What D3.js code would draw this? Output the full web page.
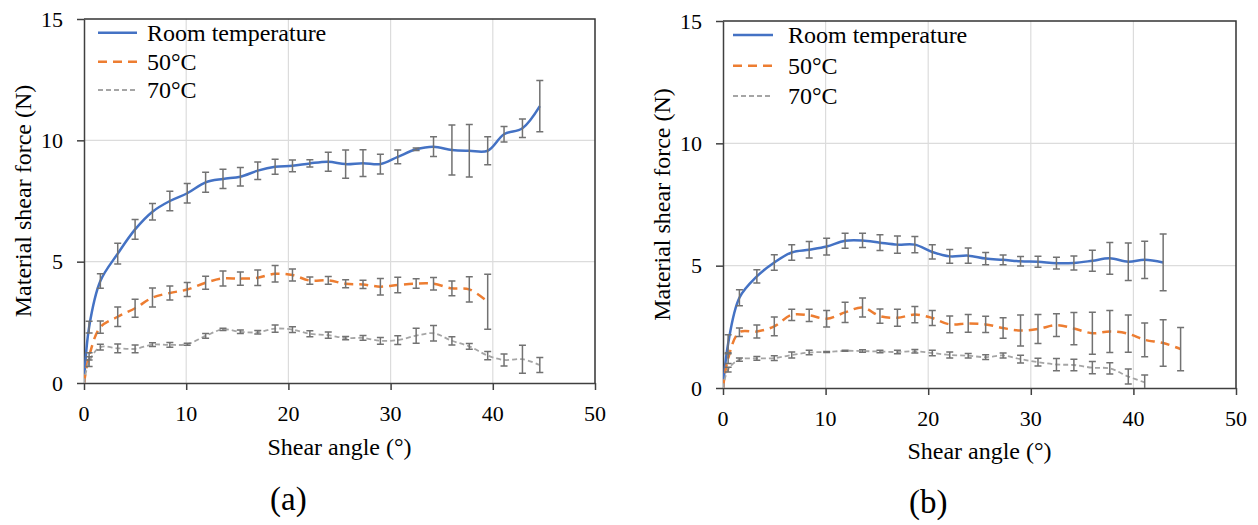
<!DOCTYPE html>
<html><head><meta charset="utf-8">
<script src="https://cdn.jsdelivr.net/npm/d3@7"></script>
<style>
body{margin:0;background:#fff}
svg{display:block}
text{font-family:"Liberation Serif","Times New Roman",serif;fill:#000}
</style>
</head><body>
<svg id="chart" width="1258" height="525"></svg>
<script>
// ---------- data ----------
const angles = [0, 0.5, 1.6, 3.3, 5.0, 6.7, 8.4, 10.1, 11.9, 13.6, 15.3, 17.0, 18.7, 20.4, 22.1, 23.9, 25.6, 27.3, 29.0, 30.7, 32.5, 34.2, 36.0, 37.7, 39.5, 41.1, 42.9, 44.6];
const xTicks = [0, 10, 20, 30, 40, 50];
const yTicks = [0, 5, 10, 15];
const seriesNames = ["Room temperature", "50°C", "70°C"];
const xTitle = "Shear angle (°)";
const yTitle = "Material shear force (N)";
const panelLabels = ["(a)", "(b)"];

// panel (a)
const roomA    = [0, 2.3, 4.2, 5.33, 6.33, 7.06, 7.5, 7.82, 8.27, 8.41, 8.5, 8.75, 8.91, 8.95, 9.05, 9.12, 9.02, 9.06, 9.02, 9.32, 9.63, 9.74, 9.6, 9.57, 9.57, 10.25, 10.5, 11.41];
const roomAErr = [null, 0.24, 0.3, 0.43, 0.41, 0.34, 0.4, 0.4, 0.41, 0.4, 0.38, 0.36, 0.31, 0.24, 0.15, 0.39, 0.58, 0.55, 0.41, 0.28, 0.05, 0.41, 1.03, 1.08, 0.58, 0.32, 0.38, 1.06];
const c50A     = [0, 1.1, 2.3, 2.73, 3.08, 3.52, 3.71, 3.85, 4.13, 4.31, 4.3, 4.34, 4.5, 4.45, 4.22, 4.23, 4.09, 4.06, 3.97, 4.04, 4.1, 4.09, 3.9, 3.86, 3.35, null, null, null];
const c50AErr  = [null, 0.15, 0.25, 0.4, 0.37, 0.39, 0.29, 0.29, 0.27, 0.31, 0.27, 0.32, 0.34, 0.25, 0.15, 0.16, 0.16, 0.17, 0.34, 0.32, 0.2, 0.26, 0.3, 0.52, 1.13, null, null, null];
const c70A     = [0, 0.88, 1.48, 1.43, 1.41, 1.58, 1.57, 1.6, 1.94, 2.21, 2.11, 2.09, 2.24, 2.2, 2.03, 1.97, 1.85, 1.86, 1.74, 1.77, 1.95, 2.05, 1.74, 1.51, 1.13, 0.95, 0.98, 0.74];
const c70AErr  = [null, 0.2, 0.12, 0.18, 0.16, 0.08, 0.1, 0.04, 0.1, 0.05, 0.07, 0.07, 0.15, 0.12, 0.12, 0.13, 0.07, 0.1, 0.14, 0.18, 0.31, 0.32, 0.17, 0.12, 0.17, 0.25, 0.58, 0.31];

// panel (b)
const roomB    = [0, 1.81, 3.69, 4.56, 5.13, 5.54, 5.65, 5.78, 6.02, 6.03, 5.94, 5.86, 5.86, 5.56, 5.38, 5.41, 5.29, 5.24, 5.18, 5.16, 5.1, 5.11, 5.2, 5.3, 5.16, 5.24, 5.13, null];
const roomBErr = [null, 0.37, 0.33, 0.27, 0.32, 0.32, 0.34, 0.34, 0.31, 0.29, 0.32, 0.35, 0.33, 0.29, 0.28, 0.31, 0.25, 0.2, 0.19, 0.22, 0.24, 0.29, 0.43, 0.65, 0.77, 0.76, 1.16, null];
const c50B     = [0, 1.2, 2.28, 2.31, 2.52, 2.99, 2.97, 2.83, 3.09, 3.29, 2.94, 2.87, 3.0, 2.86, 2.6, 2.64, 2.6, 2.45, 2.35, 2.41, 2.57, 2.43, 2.24, 2.31, 2.22, 1.97, 1.84, 1.59];
const c50BErr  = [null, 0.2, 0.17, 0.27, 0.38, 0.23, 0.25, 0.34, 0.41, 0.39, 0.29, 0.35, 0.33, 0.31, 0.34, 0.36, 0.33, 0.42, 0.63, 0.59, 0.46, 0.66, 0.86, 0.86, 0.76, 0.69, 0.95, 0.88];
const c70B     = [0, 0.75, 1.16, 1.21, 1.22, 1.35, 1.45, 1.47, 1.52, 1.51, 1.49, 1.47, 1.5, 1.43, 1.35, 1.32, 1.26, 1.33, 1.18, 1.06, 0.96, 0.94, 0.83, 0.8, 0.47, 0.23, null, null];
const c70BErr  = [null, 0.1, 0.07, 0.08, 0.1, 0.12, 0.09, 0.02, 0.02, 0.05, 0.05, 0.07, 0.07, 0.11, 0.12, 0.09, 0.1, 0.1, 0.16, 0.16, 0.25, 0.23, 0.25, 0.23, 0.31, 0.3, null, null];

// ---------- styles ----------
const FONT = '"Liberation Serif", "Times New Roman", serif';
const seriesStyle = [
  {color: "#4472C4", width: 2.5, dash: null},
  {color: "#ED7D31", width: 2.5, dash: "9,6"},
  {color: "#A5A5A5", width: 1.8, dash: "5,3"}
];
const errColor = "#727272";

const panels = [
  {label: panelLabels[0], left: 84, right: 595, top: 19, bottom: 383,
   series: [[roomA, roomAErr], [c50A, c50AErr], [c70A, c70AErr]],
   legend: {x0: 98, x1: 137, tx: 147, ys: [32.7, 61.7, 90]},
   tickLabelY: 421, titleY: 455, labelY: 510},
  {label: panelLabels[1], left: 723, right: 1236, top: 21, bottom: 388,
   series: [[roomB, roomBErr], [c50B, c50BErr], [c70B, c70BErr]],
   legend: {x0: 733, x1: 773, tx: 788, ys: [35, 65.7, 96]},
   tickLabelY: 426, titleY: 459, labelY: 513}
];

const svg = d3.select("#chart");
svg.append("rect").attr("width", 1258).attr("height", 525).attr("fill", "#fff");

panels.forEach((p, pi) => {
  const x = d3.scaleLinear().domain([0, 50]).range([p.left, p.right]);
  const y = d3.scaleLinear().domain([0, 15]).range([p.bottom, p.top]);
  const g = svg.append("g").attr("font-family", FONT);

  const clipId = "clip" + pi;
  svg.append("clipPath").attr("id", clipId).append("rect")
    .attr("x", p.left).attr("y", p.top).attr("width", p.right - p.left).attr("height", p.bottom - p.top);

  // gridlines
  g.selectAll(".vg").data(xTicks.filter(t => t > 0 && t < 50)).join("line")
    .attr("x1", d => x(d)).attr("x2", d => x(d)).attr("y1", p.top).attr("y2", p.bottom)
    .attr("stroke", "#dcdcdc").attr("stroke-width", 1.2);
  g.selectAll(".hg").data(yTicks.filter(t => t > 0 && t < 15)).join("line")
    .attr("y1", d => y(d)).attr("y2", d => y(d)).attr("x1", p.left).attr("x2", p.right)
    .attr("stroke", "#dcdcdc").attr("stroke-width", 1.2);

  // frame (top / right)
  g.append("path")
    .attr("d", `M${p.left},${p.top}H${p.right}V${p.bottom}`)
    .attr("fill", "none").attr("stroke", "#333").attr("stroke-width", 1.5);

  // axes
  const xa = g.append("g").attr("transform", `translate(0,${p.bottom})`)
    .call(d3.axisBottom(x).tickValues(xTicks).tickSize(7).tickSizeOuter(0).tickFormat(d3.format("d")));
  xa.selectAll("text").remove();
  const ya = g.append("g").attr("transform", `translate(${p.left},0)`)
    .call(d3.axisLeft(y).tickValues(yTicks).tickSize(7).tickSizeOuter(0).tickPadding(14).tickFormat(d3.format("d")));
  [xa, ya].forEach(a => {
    a.attr("font-family", FONT);
    a.select(".domain").attr("stroke", "#404040").attr("stroke-width", 1.5);
    a.selectAll(".tick line").attr("stroke", "#404040").attr("stroke-width", 1.5);
  });
  ya.selectAll("text").attr("font-size", 22).style("font-family", FONT).attr("fill", "#000");

  // x tick labels
  g.selectAll(".xl").data(xTicks).join("text")
    .attr("x", d => x(d)).attr("y", p.tickLabelY)
    .attr("text-anchor", "middle").attr("font-size", 22).style("font-family", FONT).text(d => d);

  // axis titles
  g.append("text").attr("x", (p.left + p.right) / 2).attr("y", p.titleY)
    .attr("text-anchor", "middle").attr("font-size", 24).style("font-family", FONT).text(xTitle);
  g.append("text")
    .attr("transform", `translate(${p.left - 61},${(p.top + p.bottom) / 2}) rotate(-90)`)
    .attr("text-anchor", "middle").attr("dy", "0.35em").attr("font-size", 24).style("font-family", FONT).text(yTitle);
  g.append("text").attr("x", x(20)).attr("y", p.labelY)
    .attr("text-anchor", "middle").attr("font-size", 33).style("font-family", FONT).text(p.label);

  // series lines
  const plot = g.append("g").attr("clip-path", `url(#${clipId})`);
  p.series.forEach(([vals, errs], si) => {
    const st = seriesStyle[si];
    const pts = angles.map((a, i) => ({a, v: vals[i], e: errs[i]}));
    const line = d3.line().defined(d => d.v != null)
      .x(d => x(d.a)).y(d => y(d.v)).curve(d3.curveCatmullRom.alpha(0.5));
    plot.append("path").datum(pts).attr("d", line)
      .attr("fill", "none").attr("stroke", st.color).attr("stroke-width", st.width)
      .attr("stroke-dasharray", st.dash).attr("stroke-linejoin", "round");
  });
  // error bars
  p.series.forEach(([vals, errs]) => {
    const pts = angles.map((a, i) => ({a, v: vals[i], e: errs[i]})).filter(d => d.v != null && d.e != null);
    const eb = plot.append("g").attr("stroke", errColor).attr("stroke-width", 1.5).attr("fill", "none");
    eb.selectAll("path").data(pts).join("path")
      .attr("d", d => {
        const cx = x(d.a), y1 = y(d.v - d.e), y2 = y(d.v + d.e);
        return `M${cx},${y1}V${y2}M${cx - 3.5},${y1}H${cx + 3.5}M${cx - 3.5},${y2}H${cx + 3.5}`;
      });
  });

  // legend
  seriesNames.forEach((name, si) => {
    const st = seriesStyle[si];
    const ly = p.legend.ys[si];
    g.append("line").attr("x1", p.legend.x0).attr("x2", p.legend.x1).attr("y1", ly).attr("y2", ly)
      .attr("stroke", st.color).attr("stroke-width", st.width).attr("stroke-dasharray", st.dash);
    g.append("text").attr("x", p.legend.tx).attr("y", ly).attr("dy", "0.35em")
      .attr("font-size", 24).style("font-family", FONT).text(name);
  });
});
</script>
</body></html>
